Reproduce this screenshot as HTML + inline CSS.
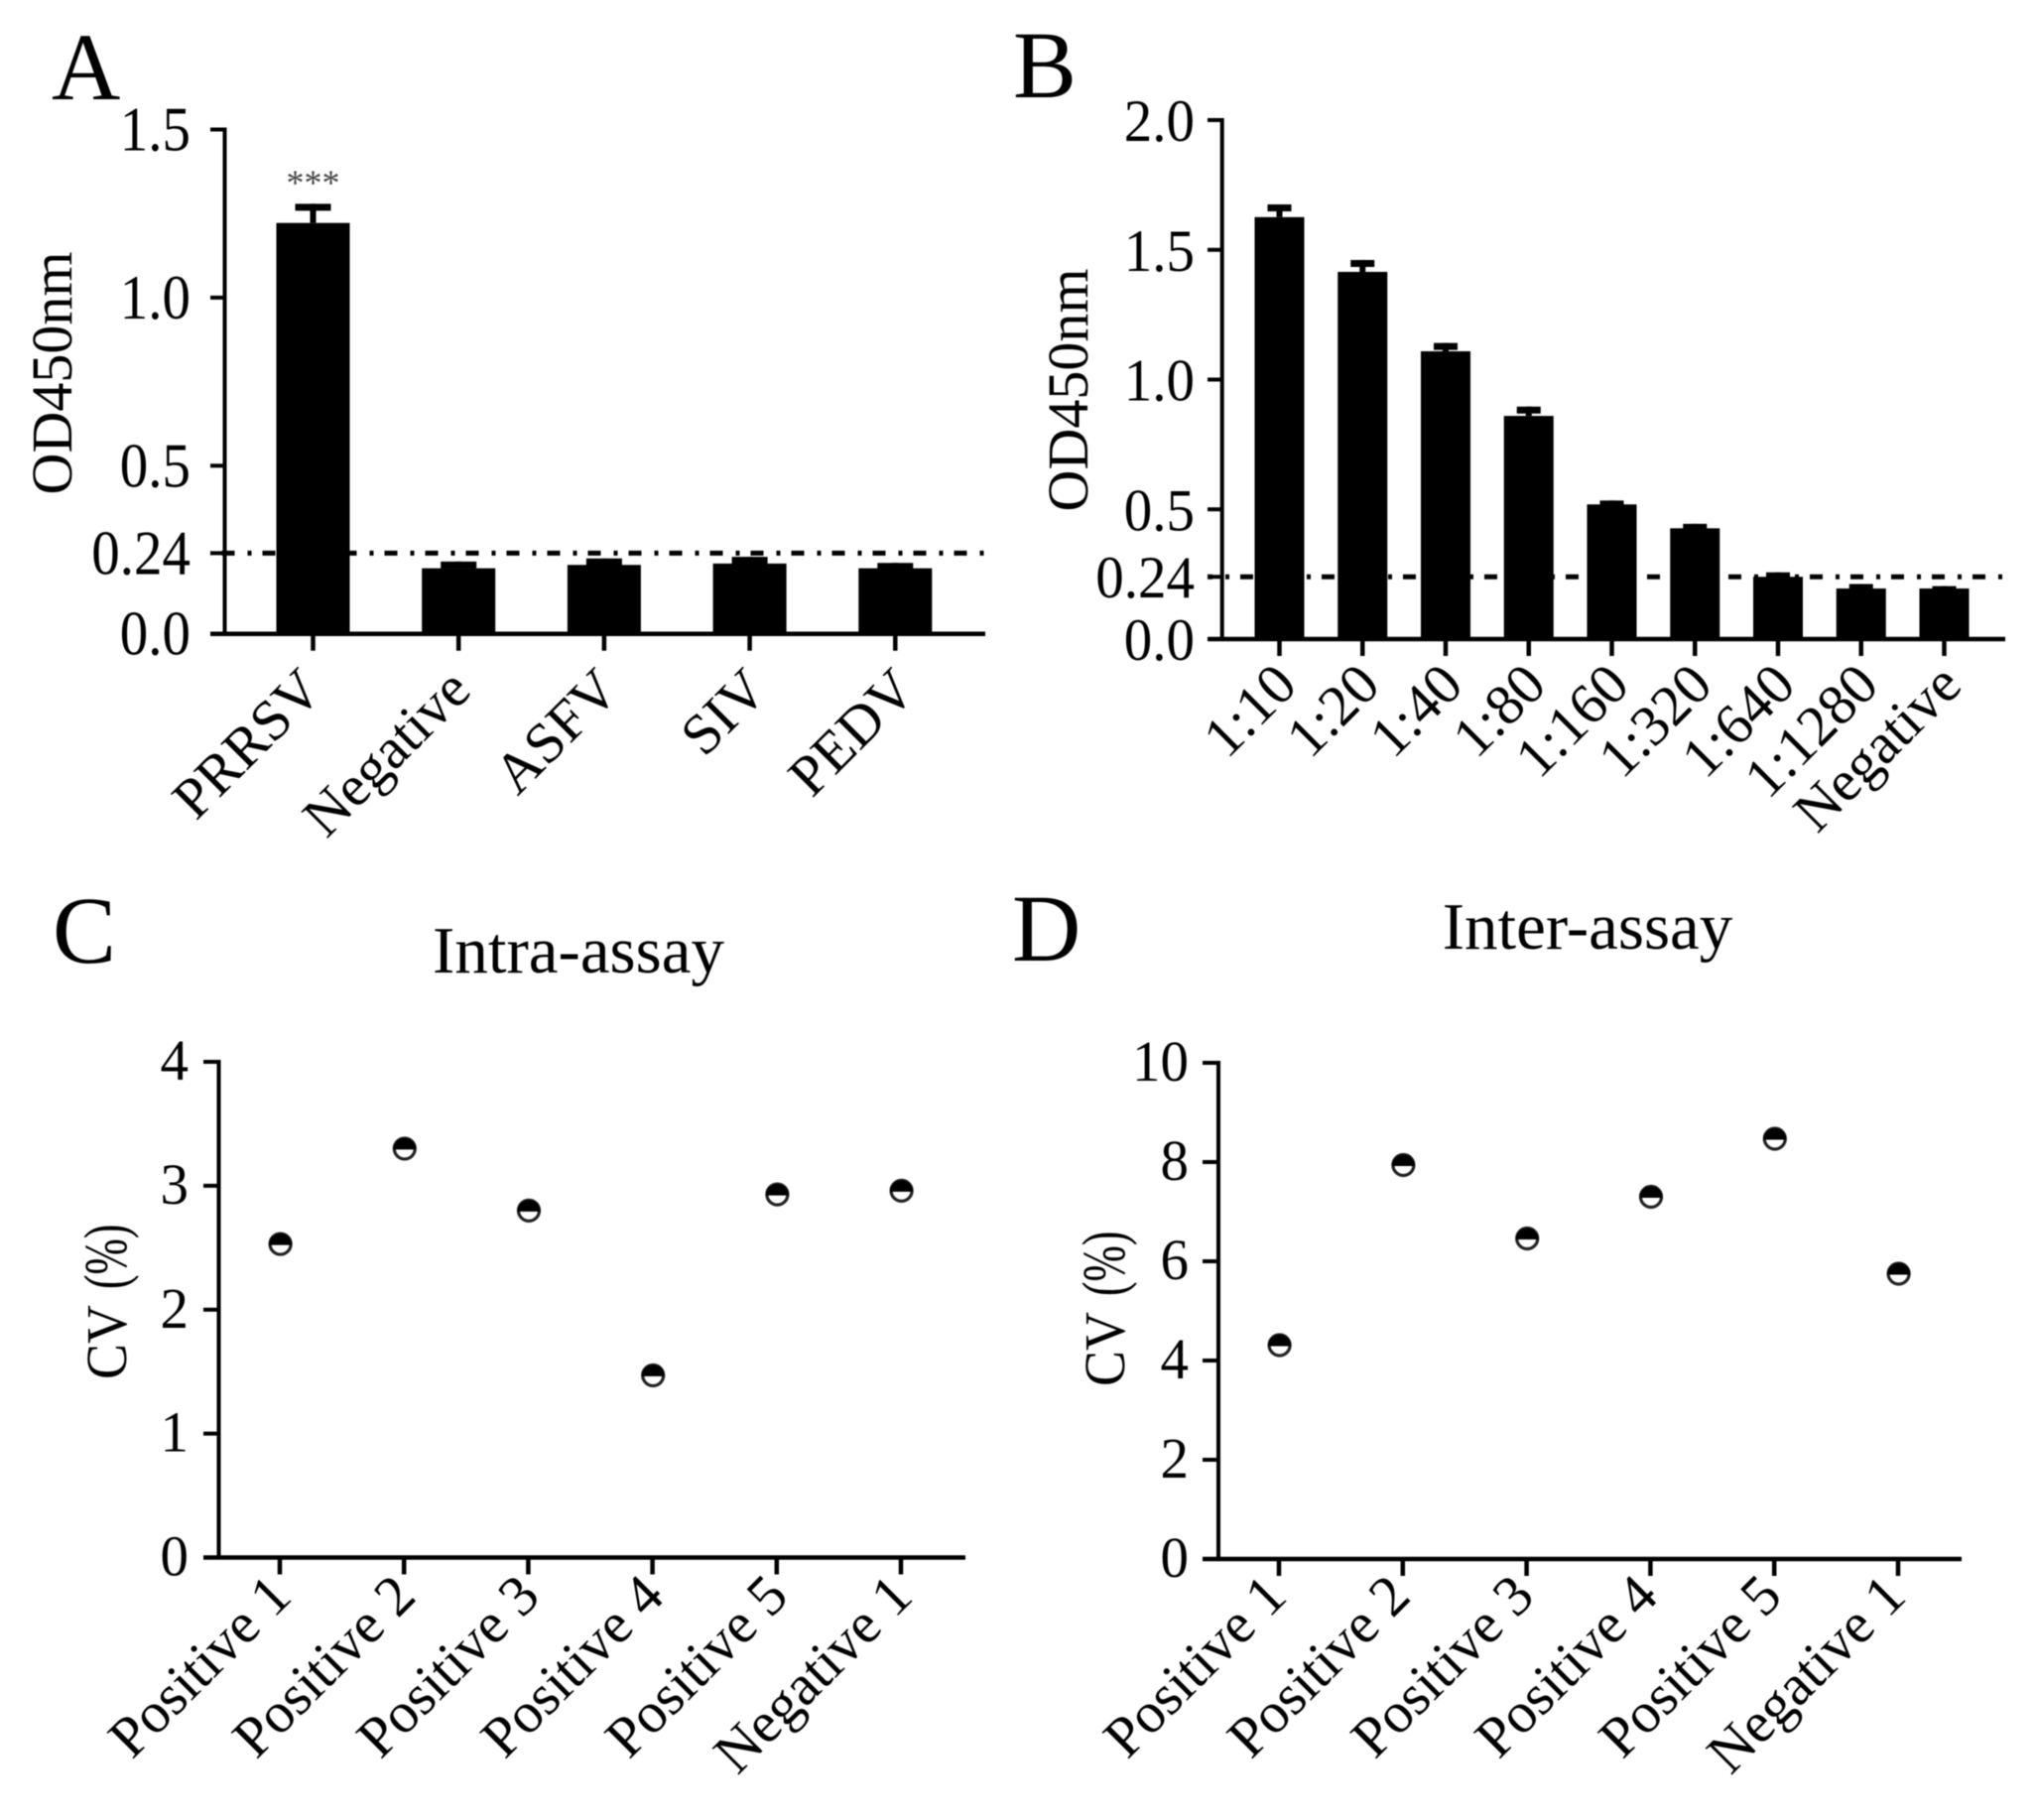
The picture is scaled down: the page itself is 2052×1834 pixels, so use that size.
<!DOCTYPE html>
<html lang="en">
<head>
<meta charset="utf-8">
<title>OD450nm and CV charts</title>
<style>
html,body{margin:0;padding:0;background:#fff;width:2052px;height:1834px;overflow:hidden}
svg{display:block;filter:blur(0.6px)}
text{font-family:"Liberation Serif","Times New Roman",serif;fill:#000}
</style>
</head>
<body>
<svg id="fig" xmlns="http://www.w3.org/2000/svg" width="2052" height="1834" viewBox="0 0 2052 1834">
  <rect x="0" y="0" width="2052" height="1834" fill="#fff"/>
  <g id="panel-a"></g>
  <g id="panel-b"></g>
  <g id="panel-c"></g>
  <g id="panel-d"></g>
</svg>
<script>
// Panel A data
const categoriesA = ['PRRSV', 'Negative', 'ASFV', 'SIV', 'PEDV'];
const valuesA = [1.222, 0.195, 0.205, 0.209, 0.195];
const errorsA = [0.057, 0.020, 0.019, 0.020, 0.016];
const tickValuesA = [0, 0.24, 0.5, 1.0, 1.5];
const tickLabelsA = ['0.0', '0.24', '0.5', '1.0', '1.5'];
const cutoffA = 0.24;

// Panel B data
const categoriesB = ['1:10', '1:20', '1:40', '1:80', '1:160', '1:320', '1:640', '1:1280', 'Negative'];
const valuesB = [1.626, 1.415, 1.109, 0.860, 0.519, 0.427, 0.240, 0.195, 0.195];
const errorsB = [0.049, 0.046, 0.032, 0.036, 0.015, 0.017, 0.017, 0.017, 0.009];
const tickValuesB = [0, 0.24, 0.5, 1.0, 1.5, 2.0];
const tickLabelsB = ['0.0', '0.24', '0.5', '1.0', '1.5', '2.0'];
const cutoffB = 0.24;

// Panel C data
const categoriesC = ['Positive 1', 'Positive 2', 'Positive 3', 'Positive 4', 'Positive 5', 'Negative 1'];
const valuesC = [2.53, 3.30, 2.80, 1.47, 2.93, 2.96];
const tickValuesC = [0, 1, 2, 3, 4];
const tickLabelsC = ['0', '1', '2', '3', '4'];

// Panel D data
const categoriesD = ['Positive 1', 'Positive 2', 'Positive 3', 'Positive 4', 'Positive 5', 'Negative 1'];
const valuesD = [4.31, 7.94, 6.46, 7.30, 8.47, 5.75];
const tickValuesD = [0, 2, 4, 6, 8, 10];
const tickLabelsD = ['0', '2', '4', '6', '8', '10'];

const NS = 'http://www.w3.org/2000/svg';

function mk(parent, tag, name, attrs) {
  const el = document.createElementNS(NS, tag);
  
  
  for (const k in attrs) el.setAttribute(k, attrs[k]);
  parent.appendChild(el);
  return el;
}
function label(parent, name, str, x, y, size, anchor, transform) {
  const t = mk(parent, 'text', name, {'font-size': size, 'text-anchor': anchor || 'start'});
  if (transform) t.setAttribute('transform', transform);
  else { t.setAttribute('x', x); t.setAttribute('y', y); }
  t.textContent = str;
  return t;
}
function seg(parent, name, x1, y1, x2, y2, w) {
  return mk(parent, 'line', name, {x1: x1, y1: y1, x2: x2, y2: y2, stroke: '#000', 'stroke-width': w});
}
function slug(s) { return String(s).toLowerCase().replace(/[^a-z0-9]+/g, '-'); }

function axes(g, o) {
  const yOf = v => o.y0 - (v / o.yMax) * (o.y0 - o.yTop);
  const xOf = i => o.x0 + i * o.step;
  seg(g, 'y-axis', o.axisX, yOf(o.yMax) - 2, o.axisX, o.y0, 4);
  seg(g, 'x-axis', o.tickLeft, o.y0, o.xEnd, o.y0, 4.5);
  o.tickValues.forEach((v, i) => {
    const y = yOf(v);
    if (v !== 0) seg(g, 'y-tick-' + slug(o.tickLabels[i]), o.tickLeft, y, o.axisX, y, 4);
    label(g, 'y-tick-label-' + slug(o.tickLabels[i]), o.tickLabels[i], 0, 0, 57, 'end',
      'translate(' + o.labelRight + ',' + (y + o.labelDy) + ') scale(1,' + o.labelSy + ')');
  });
  o.categories.forEach((c, i) => {
    const x = xOf(i);
    seg(g, 'x-tick-' + slug(c), x, o.y0, x, o.y0 + 17, 4.5);
    const ex = x + o.catDx + i * (o.catDrift || 0), ey = o.catY;
    label(g, 'x-tick-label-' + slug(c), c, 0, 0, o.catSize, 'end', 'translate(' + ex + ',' + ey + ') rotate(-45)');
  });
  return {xOf: xOf, yOf: yOf};
}

function barPanel(g, o) {
  const s = axes(g, o);
  o.values.forEach((v, i) => {
    const x = s.xOf(i), top = s.yOf(v), capY = s.yOf(v + o.errors[i]);
    const key = slug(o.categories[i]);
    seg(g, 'error-stem-' + key, x, top, x, capY, 6);
    seg(g, 'error-cap-' + key, x - o.capW / 2, capY + 3.5, x + o.capW / 2, capY + 3.5, 7);
    mk(g, 'rect', 'bar-' + key, {x: x - o.barW / 2, y: top, width: o.barW, height: o.y0 - top, fill: '#000'});
  });
  const cy = s.yOf(o.cutoff);
  mk(g, 'line', 'cutoff-line', {
    x1: o.tickLeft, y1: cy, x2: o.xEnd, y2: cy, stroke: '#000', 'stroke-width': 5,
    'stroke-dasharray': '13 13 4 11', 'stroke-dashoffset': o.dashOffset
  });
  return s;
}

function dotPanel(g, o) {
  const s = axes(g, o);
  const r = 10.5;
  o.values.forEach((v, i) => {
    const x = s.xOf(i) + 0.6, y = s.yOf(v), key = slug(o.categories[i]);
    mk(g, 'circle', 'point-ring-' + key, {cx: x, cy: y, r: r, fill: '#fff', stroke: '#222', 'stroke-width': 3.2});
    mk(g, 'path', 'point-fill-' + key, {
      d: 'M' + (x - r - 1) + ',' + (y + 1) + ' A' + (r + 1) + ',' + (r + 1) + ' 0 0 1 ' + (x + r + 1) + ',' + (y + 1) + ' Z',
      fill: '#000'
    });
  });
  return s;
}

// Panel A
const gA = document.getElementById('panel-a');
const sA = barPanel(gA, {
  categories: categoriesA, values: valuesA, errors: errorsA,
  tickValues: tickValuesA, tickLabels: tickLabelsA, cutoff: cutoffA,
  yMax: 1.5, y0: 638.7, yTop: 130.5, axisX: 226.5, tickLeft: 212, xEnd: 993,
  x0: 315.5, step: 146.7, barW: 74, capW: 36, labelRight: 192, labelDy: 21, labelSy: 1.12,
  catDx: 12, catDrift: 2.8, catY: 698, catSize: 58, dashOffset: 29.5
});
label(gA, 'panel-letter-a', 'A', 52, 100, 96);
label(gA, 'y-axis-title-a', 'OD450nm', 0, 0, 58, 'middle', 'translate(72,376) rotate(-90)');
const sigA = label(gA, 'significance-stars', '***', sA.xOf(0), 196, 36, 'middle');
sigA.setAttribute('style', 'fill:#444');

// Panel B
const gB = document.getElementById('panel-b');
barPanel(gB, {
  categories: categoriesB, values: valuesB, errors: errorsB,
  tickValues: tickValuesB, tickLabels: tickLabelsB, cutoff: cutoffB,
  yMax: 2.0, y0: 644, yTop: 121, axisX: 1231.7, tickLeft: 1217, xEnd: 2021,
  x0: 1289.5, step: 83.75, barW: 50, capW: 24, labelRight: 1204, labelDy: 21, labelSy: 1.05,
  catDx: 20, catY: 693, catSize: 58, dashOffset: 8
});
label(gB, 'panel-letter-b', 'B', 1021, 98, 96);
label(gB, 'y-axis-title-b', 'OD450nm', 0, 0, 58, 'middle', 'translate(1096,393) rotate(-90)');

// Panel C
const gC = document.getElementById('panel-c');
dotPanel(gC, {
  categories: categoriesC, values: valuesC,
  tickValues: tickValuesC, tickLabels: tickLabelsC,
  yMax: 4, y0: 1569.5, yTop: 1070, axisX: 220.5, tickLeft: 205, xEnd: 973,
  x0: 282, step: 125.2, labelRight: 190, labelDy: 18, labelSy: 1.03,
  catDx: 14, catY: 1611, catSize: 58
});
label(gC, 'panel-letter-c', 'C', 53, 970, 96);
label(gC, 'chart-title-intra-assay', 'Intra-assay', 583, 980, 67, 'middle');
label(gC, 'y-axis-title-c-cv', 'CV', 0, 0, 54, 'start', 'translate(127,1390) rotate(-90) scale(1,1.08)');
label(gC, 'y-axis-title-c-unit', '(%)', 0, 0, 56, 'start', 'translate(127,1299) rotate(-90) scale(0.78,1.1)');

// Panel D
const gD = document.getElementById('panel-d');
dotPanel(gD, {
  categories: categoriesD, values: valuesD,
  tickValues: tickValuesD, tickLabels: tickLabelsD,
  yMax: 10, y0: 1571, yTop: 1071, axisX: 1228, tickLeft: 1212, xEnd: 1977,
  x0: 1289, step: 124.8, labelRight: 1198, labelDy: 18, labelSy: 1.03,
  catDx: 10, catY: 1611, catSize: 58
});
label(gD, 'panel-letter-d', 'D', 1020, 968, 96);
label(gD, 'chart-title-inter-assay', 'Inter-assay', 1600, 956, 67, 'middle');
label(gD, 'y-axis-title-d-cv', 'CV', 0, 0, 54, 'start', 'translate(1133,1397) rotate(-90) scale(1,1.08)');
label(gD, 'y-axis-title-d-unit', '(%)', 0, 0, 56, 'start', 'translate(1133,1306) rotate(-90) scale(0.78,1.1)');
</script>
</body>
</html>
